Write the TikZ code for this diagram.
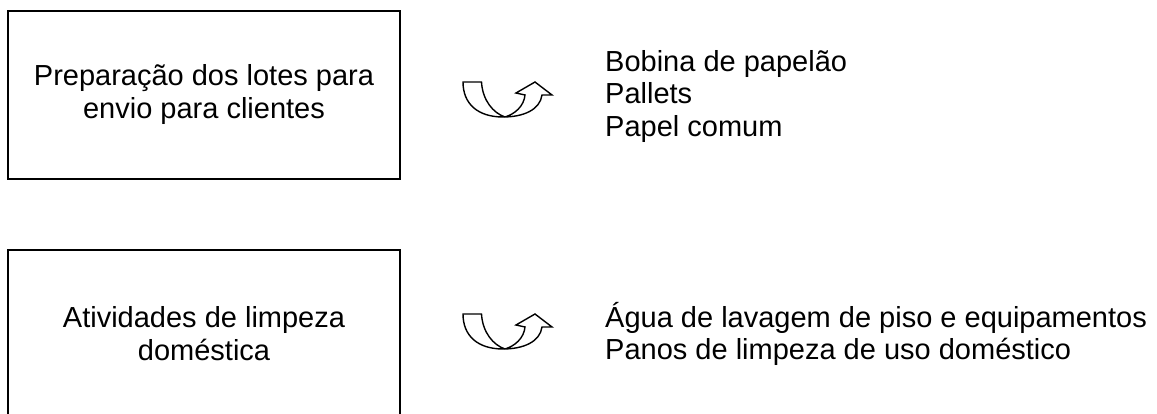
\documentclass[tikz,border=0pt]{standalone}
\usepackage{fontspec}
\setmainfont{Liberation Sans}
\usetikzlibrary{positioning}
\tikzset{
    process-box/.style = {draw=black, line width=1.3pt, rectangle, minimum width=392pt, minimum height=168pt, inner sep=0pt, align=center, font=\fontsize{29}{33}\selectfont},
    waste-list/.style = {anchor=north west, inner sep=0pt, align=left, font=\fontsize{29}{32.5}\selectfont},
    turn-arrow/.pic = {
        \draw[line width=1.4pt, line join=miter] (0,0) -- (18.5,0) .. controls (19.5,18) and (30,31) .. (42,35) .. controls (52,32) and (61,24) .. (62,13) -- (53,11) -- (72,0) -- (89,13) -- (79,13) .. controls (77,28) and (60,35) .. (40,35) .. controls (15,35) and (0,22) .. cycle;
    },
}

\begin{document}
\begin{tikzpicture}[x=1pt, y=-1pt]
\useasboundingbox (0,0) rectangle (1157,414);
% lotes
\node [process-box] (lotes) at (204,95) {Preparação dos lotes para\\envio para clientes};
\pic at (463,82) {turn-arrow};
\node [waste-list] (lotes-out) at (605,50) {Bobina de papelão\\Pallets\\Papel comum};
% limpeza
\node [process-box] (limpeza) at (204,334) {Atividades de limpeza\\doméstica};
\pic at (463,314) {turn-arrow};
\node [waste-list] (limpeza-out) at (605,302) {Água de lavagem de piso e equipamentos\\Panos de limpeza de uso doméstico};
\end{tikzpicture}
\end{document}
